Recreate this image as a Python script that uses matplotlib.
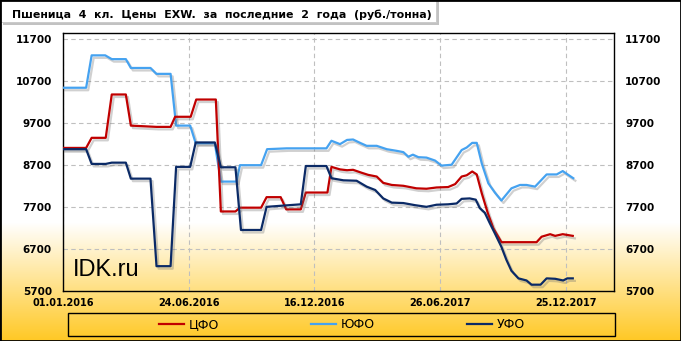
import numpy as np
import matplotlib
matplotlib.use('Agg')
import matplotlib.pyplot as plt
from matplotlib import patheffects as pe
from matplotlib.patches import Rectangle
from matplotlib.lines import Line2D

# weekly prices, x = week number from 01.01.2016
cfo_x = [0, 4.6, 5.7, 8.5, 9.7, 12.5, 13.5, 18.6, 21.4, 22.3, 25.4, 26.5, 30.4, 31.4, 34.3, 35.2,
         39.4, 40.5, 43.3, 44.4, 47.3, 48.3, 52.6, 53.4, 55.1, 56.5, 57.7, 59.4, 60.7, 62.4, 63.7,
         65.4, 67.7, 70.3, 72.3, 74.3, 76.6, 78.0, 79.3, 80.3, 81.4, 82.3, 83.3, 84.5, 85.6, 87.2,
         94.2, 95.2, 96.9, 97.9, 99.4, 101.4]
cfo_y = [9100, 9100, 9340, 9340, 10370, 10370, 9630, 9600, 9600, 9840, 9840, 10250, 10250, 7590, 7590, 7680,
         7680, 7930, 7930, 7640, 7640, 8040, 8040, 8650, 8590, 8570, 8580, 8510, 8460, 8420, 8270,
         8220, 8200, 8140, 8130, 8160, 8170, 8240, 8420, 8450, 8540, 8470, 8020, 7550, 7190, 6860,
         6860, 6990, 7050, 7010, 7050, 7010]

yufo_x = [0, 4.6, 5.7, 8.4, 9.7, 12.5, 13.5, 17.4, 18.6, 21.4, 22.5, 25.3, 26.4, 30.2, 31.4, 34.5,
          35.2, 39.4, 40.6, 44.5, 52.4, 53.4, 55.1, 56.5, 57.7, 59.1, 60.4, 62.4, 64.4, 66.4, 67.7,
          68.7, 69.6, 70.7, 72.3, 74.0, 75.3, 77.3, 79.3, 80.3, 81.4, 82.3, 83.3, 84.6, 85.9, 87.2,
          89.2, 90.9, 92.2, 93.9, 96.2, 98.2, 99.4, 100.5, 101.5]
yufo_y = [10530, 10530, 11300, 11300, 11210, 11210, 11000, 11000, 10860, 10860, 9630, 9630, 9210, 9210, 8300, 8300,
          8690, 8690, 9070, 9090, 9090, 9270, 9190, 9290, 9300, 9220, 9150, 9150, 9070, 9030, 9000,
          8890, 8940, 8880, 8870, 8800, 8680, 8700, 9050, 9110, 9220, 9220, 8730, 8260, 8040, 7850,
          8140, 8220, 8220, 8180, 8470, 8470, 8550, 8460, 8380]

ufo_x = [0, 4.6, 5.7, 8.5, 9.7, 12.5, 13.5, 17.4, 18.6, 21.4, 22.5, 25.3, 26.4, 30.2, 31.4, 34.3,
         35.4, 39.4, 40.5, 47.3, 48.3, 52.4, 53.4, 55.8, 58.4, 60.4, 62.1, 63.7, 65.4, 67.7, 70.0,
         72.3, 74.3, 76.6, 78.3, 79.3, 80.9, 82.1, 82.9, 83.9, 84.9, 85.9, 87.2, 88.2, 89.2, 90.6,
         92.2, 93.2, 95.0, 96.2, 97.9, 99.5, 100.3, 101.4]
ufo_y = [9070, 9070, 8720, 8720, 8750, 8750, 8370, 8370, 6290, 6290, 8650, 8650, 9230, 9230, 8640, 8640,
         7150, 7150, 7700, 7760, 8670, 8670, 8380, 8330, 8320, 8180, 8100, 7900, 7800, 7790, 7740,
         7700, 7750, 7760, 7780, 7890, 7900, 7870, 7670, 7560, 7310, 7070, 6750, 6440, 6180, 6000,
         5950, 5850, 5850, 6000, 5990, 5950, 6000, 6000]

tick_pos = [0, 25, 50, 75, 100]
tick_lbl = ['01.01.2016', '24.06.2016', '16.12.2016', '26.06.2017', '25.12.2017']
names = ['ЦФО', 'ЮФО', 'УФО']
colors = ['#C00000', '#45A2F0', '#0B2A66']

W, H = 681, 341
plt.rcParams['font.family'] = 'DejaVu Sans'
fig = plt.figure(figsize=(W / 100, H / 100), dpi=100)

# background: white fading into gold at the bottom
bg = fig.add_axes([0, 0, 1, 1], zorder=-10)
rows = np.arange(H)
t = np.clip((rows - 222) / (H - 222), 0, 1)
c0 = np.array([1.0, 1.0, 1.0])
c1 = np.array([255, 200, 35]) / 255
grad = c0[None, :] * (1 - t[:, None]) + c1[None, :] * t[:, None]
bg.imshow(np.repeat(grad[:, None, :], 2, axis=1), aspect='auto', extent=[0, 1, 0, 1])
bg.axis('off')

ax = fig.add_axes([63 / W, 1 - 291 / H, (614 - 63) / W, (291 - 33.3) / H])
ax.set_facecolor('none')

shadow = [pe.SimpleLineShadow(offset=(1.5, -1.8), shadow_color='#666666', alpha=0.3), pe.Normal()]
for xs, ys, c in [(yufo_x, yufo_y, colors[1]), (cfo_x, cfo_y, colors[0]), (ufo_x, ufo_y, colors[2])]:
    ax.plot(xs, ys, color=c, lw=1.6, solid_joinstyle='round', path_effects=shadow, zorder=3)

ax.set_xlim(0, 109.6)
ax.set_ylim(5700, 11824)
ax.set_xticks(tick_pos)
ax.set_xticklabels(tick_lbl, fontsize=7, fontweight='bold')
yt = list(range(5700, 11701, 1000))
ax.set_yticks(yt)
ax.set_yticklabels([str(v) for v in yt], fontsize=7.5, fontweight='bold')
ax.tick_params(axis='y', length=0, pad=8, labelright=True)
ax.tick_params(axis='x', length=0, pad=5)
for tk in ax.yaxis.get_major_ticks():
    tk.label2.set_fontweight('bold')
    tk.label2.set_fontsize(7.5)
ax.grid(True, ls=(0, (4, 3)), color='#BFBFBF', lw=0.8)
for s in ax.spines.values():
    s.set_color('black')
    s.set_linewidth(1)

fig.text(73.3 / W, 1 - 276 / H, 'IDK.ru', fontsize=17, family='Liberation Sans', va='baseline', ha='left')

# title box
fig.patches.append(Rectangle((2.5 / W, 1 - 25 / H), 436 / W, 25 / H, transform=fig.transFigure,
                             fc='#9A9A9A', ec='none', alpha=0.6, zorder=0))
fig.patches.append(Rectangle((0, 1 - 22 / H), 436 / W, 22 / H, transform=fig.transFigure,
                             fc='white', ec='#C8C8C8', lw=0.6, zorder=1))
fig.text(11.7 / W, 1 - 14.5 / H, 'Пшеница  4  кл.  Цены  EXW.  за  последние  2  года  (руб./тонна)',
         fontsize=7.9, fontweight='bold', va='center', ha='left', zorder=2)

# legend
fig.patches.append(Rectangle((67.7 / W, 1 - 336 / H), (615 - 67.7) / W, (336 - 313.3) / H,
                             transform=fig.transFigure, fill=False, ec='black', lw=1))
handles = [Line2D([], [], color=c, lw=1.6) for c in colors]
fig.legend(handles, names, loc='center', bbox_to_anchor=(342 / W, 1 - 324.5 / H), ncol=3,
           frameon=False, fontsize=9, handlelength=2.0, handletextpad=0.35, columnspacing=7.4)

fig.patches.append(Rectangle((0, 0), 1, 1, transform=fig.transFigure, fill=False, ec='black', lw=2))

fig.savefig('out.png', dpi=100)
